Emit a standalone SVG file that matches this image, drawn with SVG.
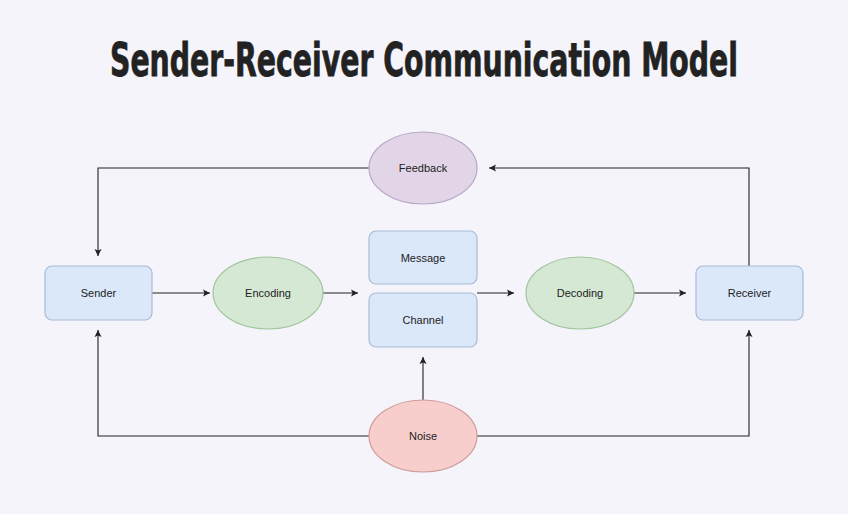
<svg xmlns="http://www.w3.org/2000/svg" width="848" height="514" viewBox="0 0 848 514">
<defs>
<marker id="ah" markerWidth="8" markerHeight="8" refX="7" refY="4" orient="auto" markerUnits="userSpaceOnUse">
<path d="M0,0.5 L7,4 L0,7.5 L1.5,4 Z" fill="#222"/>
</marker>
<style>
.title{font-family:"DejaVu Sans Condensed","DejaVu Sans","Liberation Sans",sans-serif;font-weight:bold;font-size:46px;fill:#222;stroke:#222;stroke-width:0.8}
.lbl{font-family:"Liberation Sans",Arial,sans-serif;font-size:11px;fill:#222;text-anchor:middle;dominant-baseline:central}
.blue{fill:#dae8fa;stroke:#a8bcd8;stroke-width:1.2}
.green{fill:#d5e8d4;stroke:#a2c49e;stroke-width:1.2}
.purple{fill:#e1d5e7;stroke:#b9a7c6;stroke-width:1.2}
.red{fill:#f8cecc;stroke:#cf9d9b;stroke-width:1.2}
.conn{fill:none;stroke:#222;stroke-width:1.1;marker-end:url(#ah)}
</style>
</defs>
<rect width="848" height="514" fill="#f4f4fa"/>
<text class="title" x="424" y="76" text-anchor="middle" textLength="628" lengthAdjust="spacingAndGlyphs">Sender-Receiver Communication Model</text>
<g id="connectors">
<path class="conn" d="M152,293 H210"/>
<path class="conn" d="M323,293 H358"/>
<path class="conn" d="M477,293 H514"/>
<path class="conn" d="M634,293 H686"/>
<path class="conn" d="M749,266 V168 H489"/>
<path class="conn" d="M369,168 H98 V256"/>
<path class="conn" d="M369,436 H98 V330"/>
<path class="conn" d="M477,436 H749 V330"/>
<path class="conn" d="M423,400 V357"/>
</g>
<g id="sender"><rect class="blue" x="45" y="266" width="107" height="54" rx="7"/><text class="lbl" x="98.5" y="293">Sender</text></g>
<g id="encoding"><ellipse class="green" cx="268" cy="293" rx="55" ry="36"/><text class="lbl" x="268" y="293">Encoding</text></g>
<g id="message"><rect class="blue" x="369" y="231" width="108" height="53" rx="7"/><text class="lbl" x="423" y="257.5">Message</text></g>
<g id="channel"><rect class="blue" x="369" y="293" width="108" height="54" rx="7"/><text class="lbl" x="423" y="320">Channel</text></g>
<g id="decoding"><ellipse class="green" cx="580" cy="293" rx="54" ry="36"/><text class="lbl" x="580" y="293">Decoding</text></g>
<g id="receiver"><rect class="blue" x="696" y="266" width="107" height="54" rx="7"/><text class="lbl" x="749.5" y="293">Receiver</text></g>
<g id="feedback"><ellipse class="purple" cx="423" cy="168" rx="54" ry="36"/><text class="lbl" x="423" y="168">Feedback</text></g>
<g id="noise"><ellipse class="red" cx="423" cy="436" rx="54" ry="36"/><text class="lbl" x="423" y="436">Noise</text></g>
</svg>
